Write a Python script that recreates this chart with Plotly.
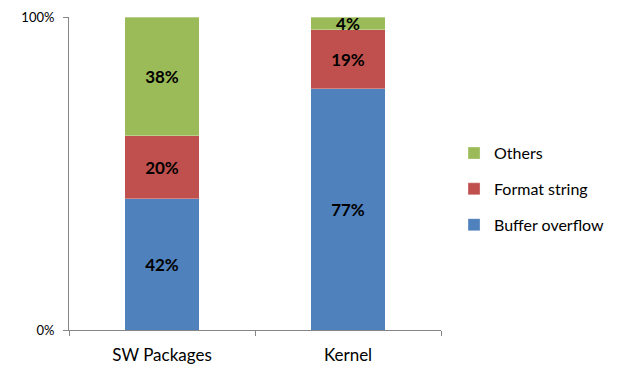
import plotly.graph_objects as go

categories = ["SW Packages", "Kernel"]
buffer_overflow = [42, 77]
format_string = [20, 19]
others = [38, 4]
series_names = ["Buffer overflow", "Format string", "Others"]
colors = ["#4F81BD", "#C0504D", "#9BBB59"]
ranks = [3, 2, 1]

fig = go.Figure()
for name, vals, col, rk in zip(series_names, [buffer_overflow, format_string, others], colors, ranks):
    fig.add_trace(go.Bar(
        x=categories, y=vals, name=name,
        marker=dict(color=col, line=dict(color="rgba(255,255,255,0.6)", width=0.5)),
        text=[f"{v}%" for v in vals], textposition="inside",
        insidetextanchor="middle", constraintext="none",
        textfont=dict(family="Lato, Noto Sans, sans-serif", size=17, color="black", weight="bold"),
        width=0.4, legendgroup=name, legendrank=rk,
    ))

fig.update_layout(
    barmode="stack",
    width=625, height=369,
    margin=dict(l=69, r=184, t=17, b=39, autoexpand=False),
    paper_bgcolor="white", plot_bgcolor="white",
    font=dict(family="Lato, Noto Sans, sans-serif", color="#000"),
    legend=dict(traceorder="grouped", x=1.035, y=0.45, xanchor="left", yanchor="middle",
                font=dict(size=16, color="#000"), tracegroupgap=12, itemwidth=30),
    showlegend=True,
)
fig.update_xaxes(showline=True, linecolor="#868686", linewidth=1, ticks="outside",
                 tickson="boundaries", ticklen=5, tickcolor="#868686",
                 ticklabelstandoff=10, automargin=False,
                 tickfont=dict(size=17, color="#000"), showgrid=False)
fig.update_yaxes(range=[0, 100], tickvals=[0, 100], ticktext=["0%", "100%"],
                 showline=True, linecolor="#868686", linewidth=1, ticks="outside",
                 ticklen=5, tickcolor="#868686", showgrid=False, zeroline=False,
                 ticklabelstandoff=6, automargin=False,
                 tickfont=dict(size=13, color="#000"))

fig.write_html("out.html")
